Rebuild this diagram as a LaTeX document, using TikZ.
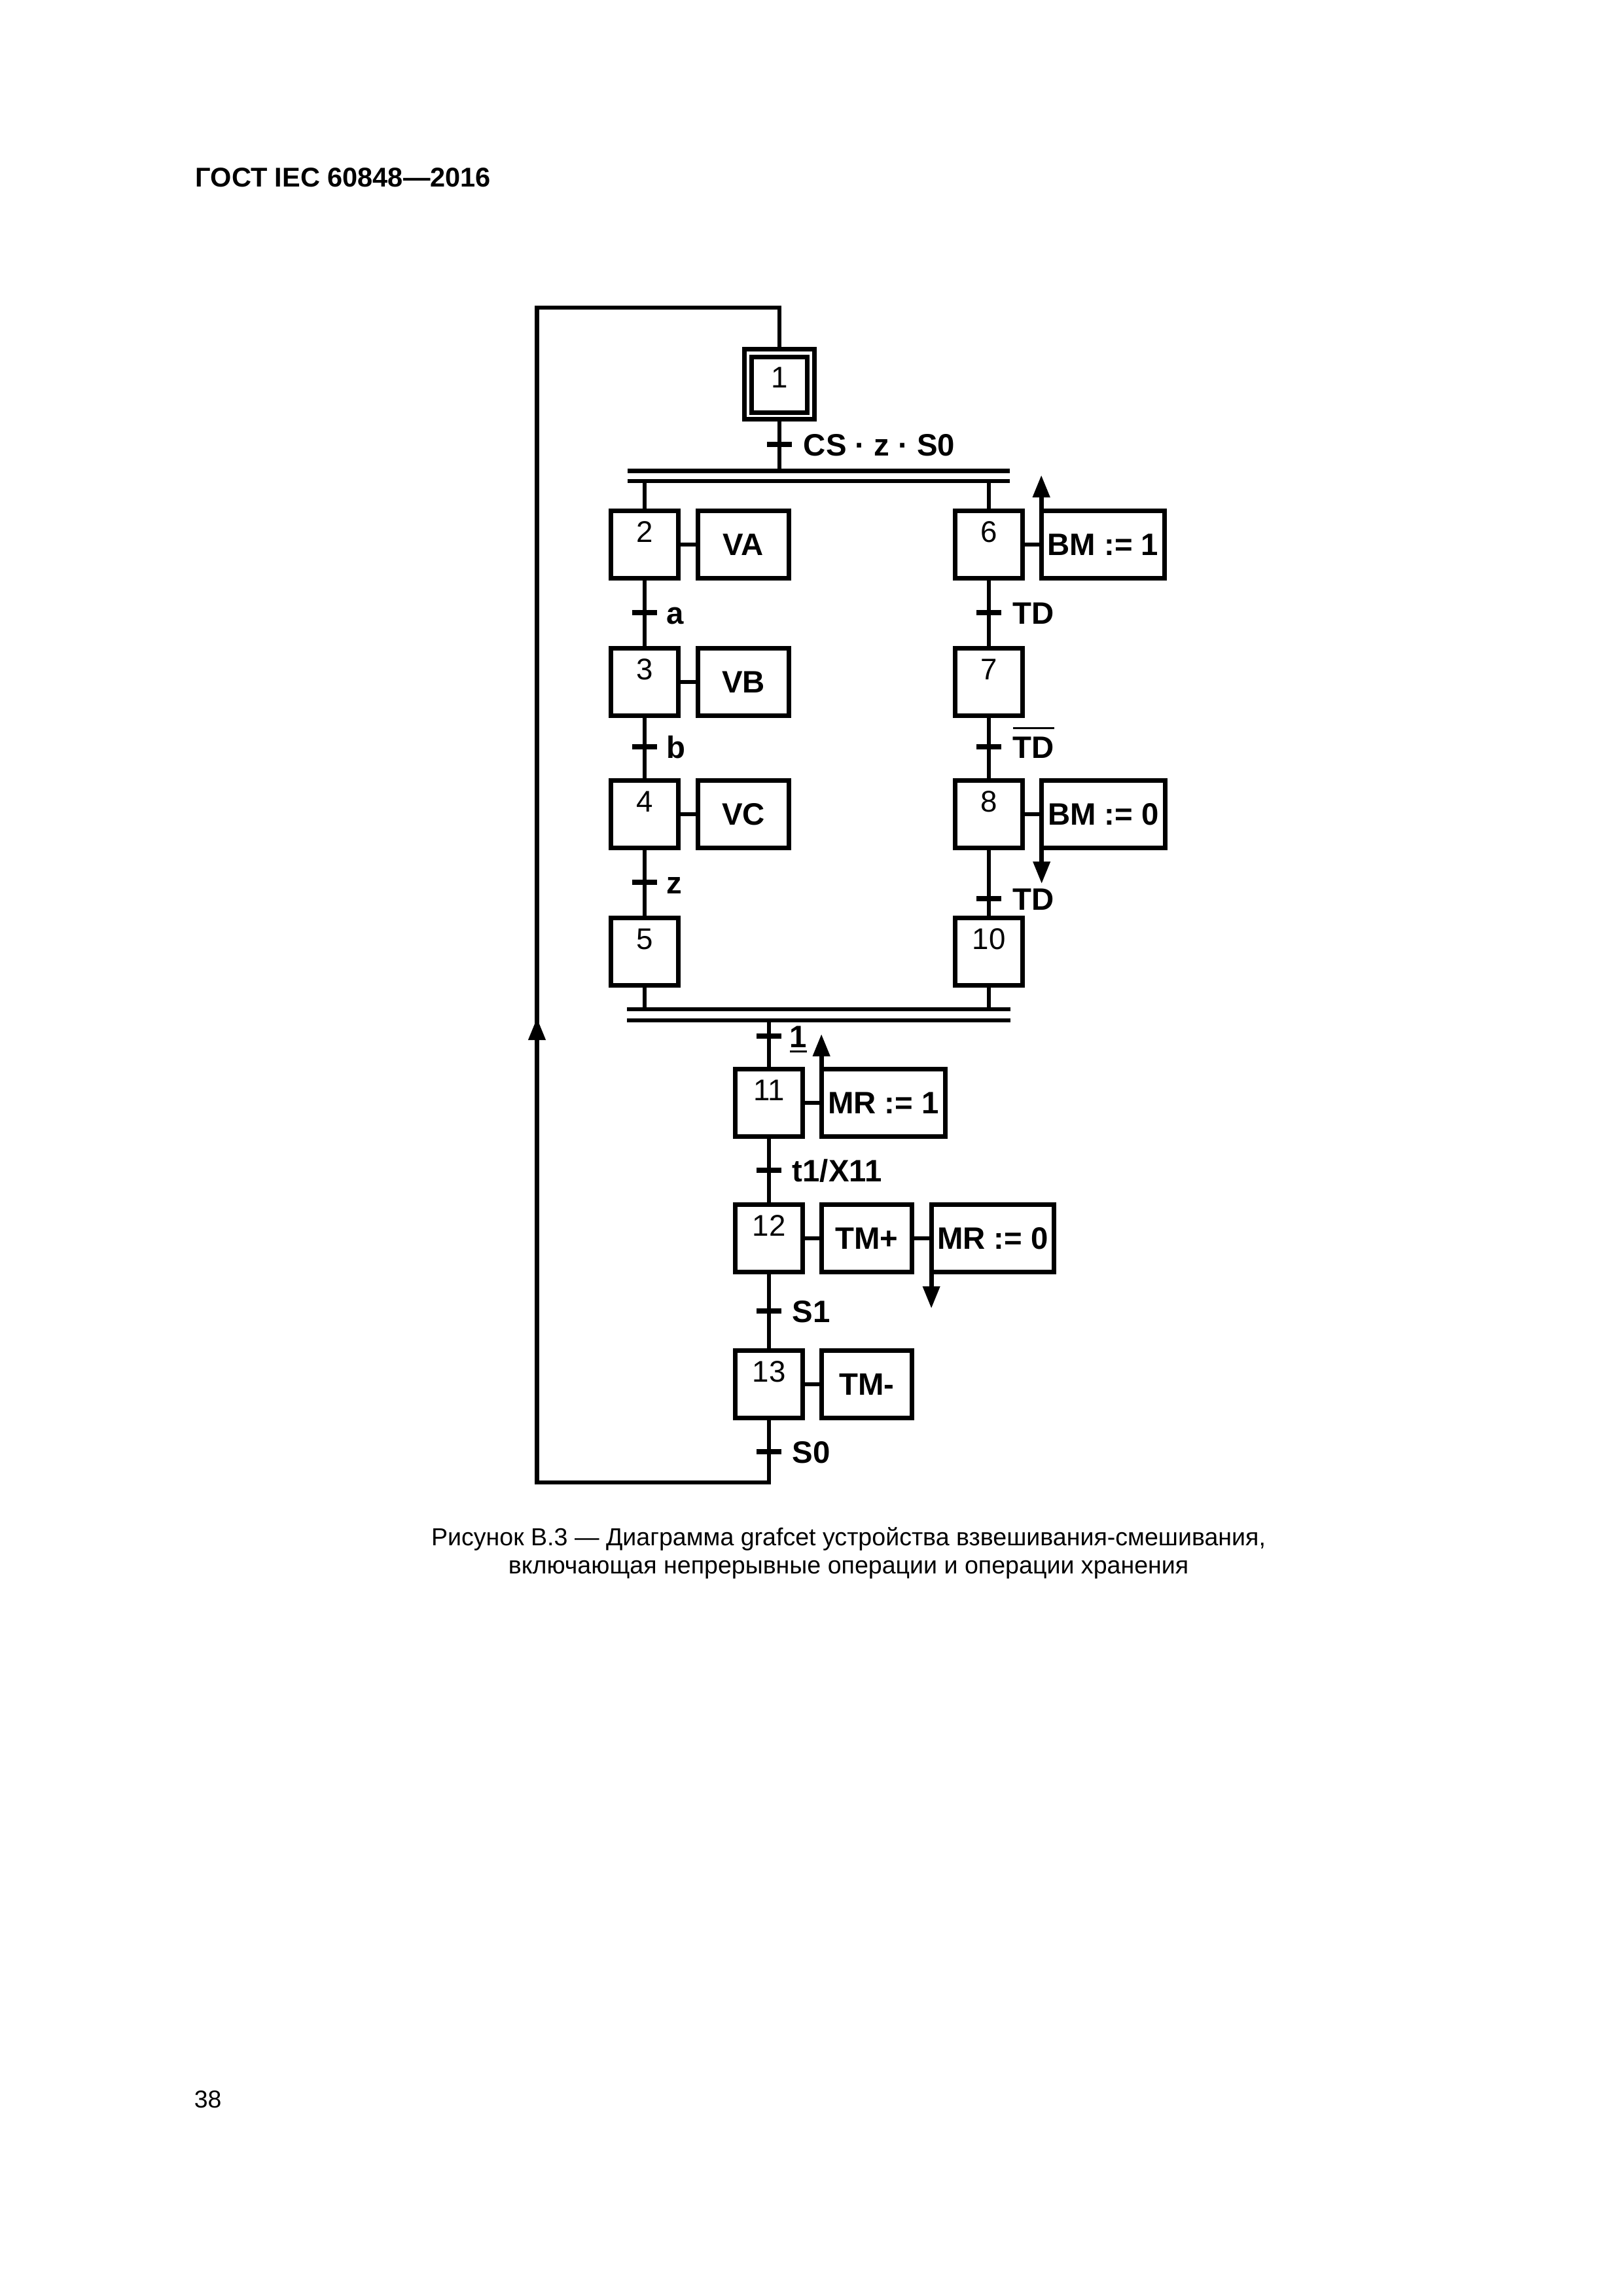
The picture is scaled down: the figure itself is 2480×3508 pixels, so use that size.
\documentclass[tikz,border=0pt]{standalone}
\usepackage{fontspec}
\setmainfont{Liberation Sans}
\usetikzlibrary{arrows.meta,calc}
\newlength\pu
\setlength\pu{0.0846774mm}
\newcommand\ovl[1]{\setbox0=\hbox{#1}\rlap{\rule[\dimexpr\ht0+11\pu\relax]{\wd0}{3.5\pu}}\box0}
\newcommand\undl[1]{\setbox0=\hbox{#1}\rlap{\rule[-8\pu]{\wd0}{3.5\pu}}\box0}
\tikzset{
  ln/.style={line width=0.58mm},
  tickln/.style={line width=0.65mm},
  stepbox/.style={draw, line width=0.58mm, minimum width=8.78mm, minimum height=8.78mm,
    inner sep=0pt, text height=2.79mm, text depth=3.39mm, font=\fontsize{11}{13}\selectfont},
  actbox/.style={draw, line width=0.58mm, minimum height=8.78mm, inner sep=0pt,
    text height=2.85mm, text depth=0pt, font=\bfseries\fontsize{11.4}{13}\selectfont},
  lbl/.style={anchor=base west, inner sep=0pt, font=\bfseries\fontsize{11.4}{13}\selectfont},
  arr/.style={line width=0.58mm, -{Triangle[length=2.88mm, width=2.12mm]}},
}
\begin{document}
\begin{tikzpicture}[x=0.0846774mm, y=-0.0846774mm]
\fill[white] (0,0) rectangle (2480,3508);
\useasboundingbox (0,0) rectangle (2480,3508);

% header and page number
\node[anchor=base west, inner sep=0pt, font=\bfseries\fontsize{10}{12}\selectfont] (hdr) at (298,285) {ГОСТ IEC 60848—2016};
\node[anchor=base west, inner sep=0pt, font=\fontsize{9}{11}\selectfont] (pg) at (296,3220) {38};

% initial step
\node[stepbox, minimum width=9.07mm, minimum height=9.07mm, text depth=0pt] (s1) at (1191,587) {};
\node[stepbox, minimum width=7.13mm, minimum height=7.13mm, text depth=1.95mm] (s1i) at (1191,588) {1};

% left branch
\node[stepbox] (s2) at (985,832) {2};
\node[stepbox] (s3) at (985,1042) {3};
\node[stepbox] (s4) at (985,1244) {4};
\node[stepbox] (s5) at (985,1454) {5};
\node[actbox, minimum width=11.82mm] (a2) at (1136,832) {VA};
\node[actbox, minimum width=11.82mm] (a3) at (1136,1042) {VB};
\node[actbox, minimum width=11.82mm] (a4) at (1136,1244) {VC};

% right branch
\node[stepbox] (s6) at (1511,832) {6};
\node[stepbox] (s7) at (1511,1042) {7};
\node[stepbox] (s8) at (1511,1244) {8};
\node[stepbox] (s10) at (1511,1454) {10};
\node[actbox, minimum width=15.97mm] (a6) at (1685.5,832) {BM := 1};
\node[actbox, minimum width=15.97mm] (a8) at (1686,1244) {BM := 0};

% lower sequence
\node[stepbox] (s11) at (1175,1685) {11};
\node[stepbox] (s12) at (1175,1892) {12};
\node[stepbox] (s13) at (1175,2115) {13};
\node[actbox, minimum width=16.06mm] (a11) at (1350,1685) {MR := 1};
\node[actbox, minimum width=11.74mm] (a12) at (1324.5,1892) {TM+};
\node[actbox, minimum width=15.89mm] (a12b) at (1517,1892) {MR := 0};
\node[actbox, minimum width=11.74mm] (a13) at (1324.5,2115) {TM-};

% action connectors
\draw[ln] (s2) -- (a2);
\draw[ln] (s3) -- (a3);
\draw[ln] (s4) -- (a4);
\draw[ln] (s6) -- (a6);
\draw[ln] (s8) -- (a8);
\draw[ln] (s11) -- (a11);
\draw[ln] (s12) -- (a12);
\draw[ln] (a12) -- (a12b);
\draw[ln] (s13) -- (a13);

% stored action arrows
\draw[arr] ($(a6.north west)+(3.4,0)$) -- ++(0,-51);
\draw[arr] ($(a8.south west)+(3.4,0)$) -- ++(0,51);
\draw[arr] ($(a11.north west)+(3.4,0)$) -- ++(0,-50);
\draw[arr] ($(a12b.south west)+(3.4,0)$) -- ++(0,52);

% divergence / convergence bars
\coordinate (d1) at (959,719.5);
\coordinate (d2) at (959,735);
\coordinate (c1) at (958,1542);
\coordinate (c2) at (958,1559);
\draw[ln] (d1) -- ++(584,0);
\draw[ln] (d2) -- ++(584,0);
\draw[ln] (c1) -- ++(586,0);
\draw[ln] (c2) -- ++(586,0);

% vertical links
\draw[ln] (s1.south) -- (s1.south |- d1);
\draw[ln] (s2.north |- d2) -- (s2.north);
\draw[ln] (s6.north |- d2) -- (s6.north);
\draw[ln] (s2) -- (s3);
\draw[ln] (s3) -- (s4);
\draw[ln] (s4) -- (s5);
\draw[ln] (s5.south) -- (s5.south |- c1);
\draw[ln] (s6) -- (s7);
\draw[ln] (s7) -- (s8);
\draw[ln] (s8) -- (s10);
\draw[ln] (s10.south) -- (s10.south |- c1);
\draw[ln] (s11.north |- c2) -- (s11.north);
\draw[ln] (s11) -- (s12);
\draw[ln] (s12) -- (s13);

% loop back
\coordinate (lb) at (1175,2265);
\coordinate (ll) at (820.5,2265);
\coordinate (lt) at (820.5,470);
\coordinate (lr) at (1191,470);
\draw[ln] (s13.south) -- (lb) -- (ll) -- (lt) -- (lr) -- (s1.north);
\draw[arr] (ll) -- (820.5,1555);

% transitions
\foreach \n/\x/\y in {t1/1191/679, ta/985/936, tb/985/1141, tz/985/1348,
  tTDa/1511/936, tTDb/1511/1141, tTDc/1511/1373,
  tone/1175/1583, tx/1175/1788, ts1/1175/2003, ts0/1175/2218}{
  \coordinate (\n) at (\x,\y);
  \draw[tickln] ($(\n)+(-19,0)$) -- ($(\n)+(19,0)$);
}
\node[lbl] (l1) at ($(t1)+(36,17)$) {CS · z · S0};
\node[lbl] (la) at ($(ta)+(33,17)$) {a};
\node[lbl] (lb2) at ($(tb)+(33,17)$) {b};
\node[lbl] (lz) at ($(tz)+(33,17)$) {z};
\node[lbl] (lTDa) at ($(tTDa)+(36,17)$) {TD};
\node[lbl] (lTDb) at ($(tTDb)+(36,17)$) {\ovl{TD}};
\node[lbl] (lTDc) at ($(tTDc)+(36,17)$) {TD};
\node[lbl] (lone) at ($(tone)+(31,17)$) {\undl{1}};
\node[lbl] (lx) at ($(tx)+(35,17)$) {t1/X11};
\node[lbl] (ls1) at ($(ts1)+(35,17)$) {S1};
\node[lbl] (ls0) at ($(ts0)+(35,17)$) {S0};

% caption
\node[anchor=base, inner sep=0pt, font=\fontsize{9.05}{11}\selectfont] (cap1) at (1296.5,2361)
  {Рисунок В.3 — Диаграмма grafcet устройства взвешивания-смешивания,};
\node[anchor=base, inner sep=0pt, font=\fontsize{9.05}{11}\selectfont] (cap2) at (1296.5,2404)
  {включающая непрерывные операции и операции хранения};
\end{tikzpicture}
\end{document}
